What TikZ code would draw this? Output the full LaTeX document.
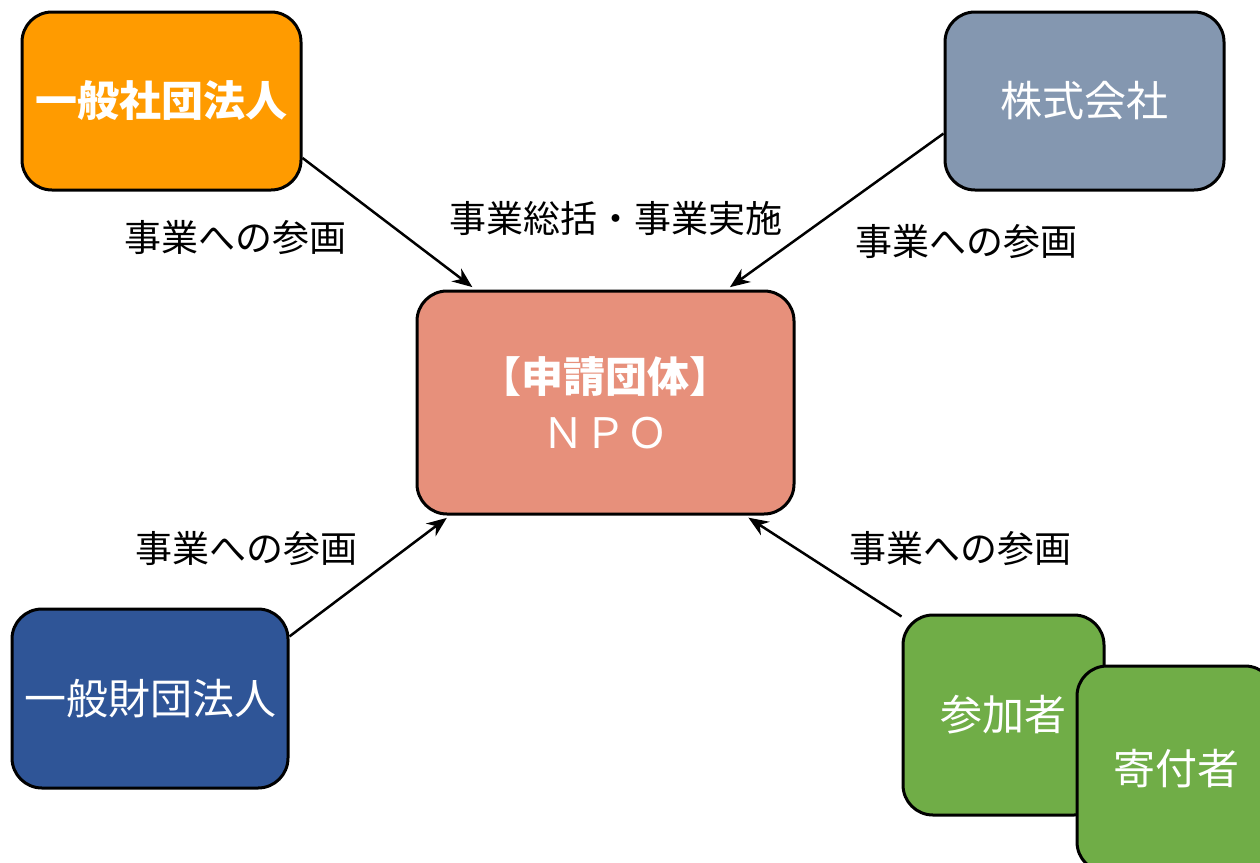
\documentclass[tikz,border=0pt]{standalone}
\usepackage{fontspec}
\setmainfont{Noto Sans CJK JP}
\usetikzlibrary{arrows.meta}
\definecolor{corange}{HTML}{FF9B00}
\definecolor{cgray}{HTML}{8497B0}
\definecolor{csalmon}{HTML}{E7907B}
\definecolor{cblue}{HTML}{2F5597}
\definecolor{cgreen}{HTML}{70AD47}
\tikzset{
  org/.style={draw=black, line width=3pt, rounded corners=30pt, inner sep=0pt,
    text=white, font=\fontsize{42}{50}\selectfont, align=center},
  lbl/.style={font=\fontsize{37}{44}\selectfont, text=black, inner sep=0pt},
  conn/.style={line width=2.5pt, -{Stealth[length=20pt,width=16pt]}, shorten >=4pt}
}
\begin{document}
\begin{tikzpicture}[x=1pt,y=-1pt]
\useasboundingbox (0,0) rectangle (1260,862);
\node[org, fill=corange, minimum width=279pt, minimum height=178pt, font=\fontsize{42}{50}\selectfont\bfseries] (sha) at (161.5,101) {一般社団法人};
\node[org, fill=cgray, minimum width=279pt, minimum height=178pt] (kab) at (1084.5,101) {株式会社};
\node[org, fill=csalmon, minimum width=377pt, minimum height=223pt, font=\fontsize{42}{56}\selectfont] (npo) at (605.5,402.5) {\textbf{【申請団体】}\\ＮＰＯ};
\node[org, fill=cblue, minimum width=276pt, minimum height=179pt] (zai) at (150,698.5) {一般財団法人};
\node[org, fill=cgreen, minimum width=201pt, minimum height=200pt] (san) at (1003.5,715) {参加者};
\node[org, fill=cgreen, minimum width=198pt, minimum height=206pt] (kif) at (1176,769) {寄付者};

\draw[conn] (sha.-22) -- (npo.139);
\draw[conn] (kab.-167.5) -- (npo.43);
\draw[conn] (zai.24) -- (npo.-144);
\draw[conn] (san.136.7) -- (npo.-39);

\node[lbl] (l1) at (235,238) {事業への参画};
\node[lbl] (l2) at (616,218) {事業総括・事業実施};
\node[lbl] (l3) at (966,242) {事業への参画};
\node[lbl] (l4) at (246,549) {事業への参画};
\node[lbl] (l5) at (960,549) {事業への参画};
\end{tikzpicture}
\end{document}
